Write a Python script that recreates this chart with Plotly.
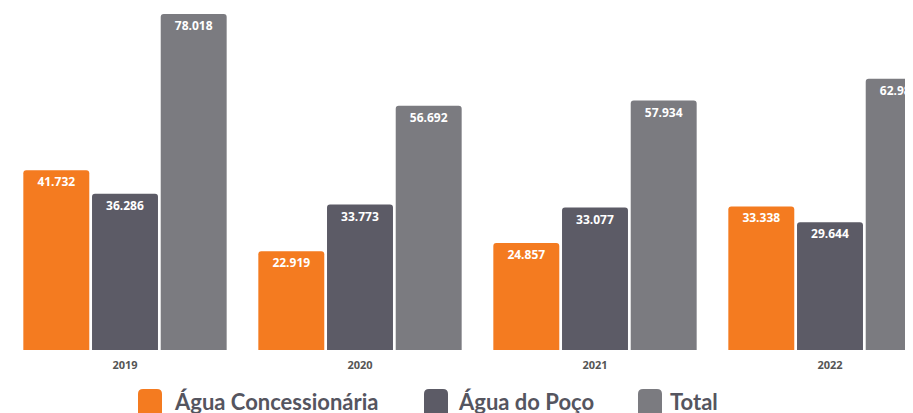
import plotly.graph_objects as go

years = ["2019", "2020", "2021", "2022"]
agua_concessionaria = [41.732, 22.919, 24.857, 33.338]
agua_poco = [36.286, 33.773, 33.077, 29.644]
total = [78.018, 56.692, 57.934, 62.982]

series_names = ["Água Concessionária", "Água do Poço", "Total"]
colors = ["#F47B20", "#5C5B66", "#7B7B80"]

# the page body has an 8px margin; size the figure to fill the rest of the window
OFF = 8
W, H = 913 - OFF, 413 - OFF
PLOT_H = 342
M_B = H - PLOT_H


def fmt(v):
    return f"{v:.3f}"


fig = go.Figure()
for name, vals, col in zip(series_names, [agua_concessionaria, agua_poco, total], colors):
    fig.add_trace(go.Bar(
        x=years, y=vals, name=name,
        marker=dict(color=col, line=dict(width=0)),
        text=[fmt(v) for v in vals],
        textposition="inside",
        insidetextanchor="end",
        textangle=0,
        textfont=dict(family="Open Sans", size=12, color="white", weight=700),
        showlegend=False,
        hoverinfo="skip",
    ))


def px2paper(x, y):
    # page pixel coords -> paper coords
    return (x - OFF) / W, (PLOT_H - (y - OFF)) / PLOT_H


def rounded_rect(x0, y0, x1, y1, r):
    def P(x, y):
        px, py = px2paper(x, y)
        return f"{px:.5f},{py:.5f}"
    return (f"M {P(x0 + r, y0)} L {P(x1 - r, y0)} Q {P(x1, y0)} {P(x1, y0 + r)} "
            f"L {P(x1, y1 - r)} Q {P(x1, y1)} {P(x1 - r, y1)} L {P(x0 + r, y1)} "
            f"Q {P(x0, y1)} {P(x0, y1 - r)} L {P(x0, y0 + r)} Q {P(x0, y0)} {P(x0 + r, y0)} Z")


legend_items = [(138, 172), (424, 456), (638, 668)]
shapes = []
annotations = []
for (bx, tx), name, col in zip(legend_items, series_names, colors):
    shapes.append(dict(type="path", xref="paper", yref="paper",
                       path=rounded_rect(bx, 389, bx + 24, 418, 5),
                       fillcolor=col, line=dict(width=0)))
    ax, ay = px2paper(tx, 401)
    annotations.append(dict(x=ax, y=ay, xref="paper", yref="paper",
                            text=name, showarrow=False, xanchor="left", yanchor="middle",
                            font=dict(family="Lato", size=22, color="#55555F", weight=700)))

x0 = -(125 - OFF) / 235
fig.update_layout(
    width=W, height=H,
    margin=dict(l=0, r=0, t=0, b=M_B),
    paper_bgcolor="white", plot_bgcolor="white",
    barmode="group", bargap=0.123, bargroupgap=0.04,
    barcornerradius=3,
    xaxis=dict(type="category", range=[x0, x0 + W / 235], showgrid=False, showline=False,
               zeroline=False, ticks="", ticklabelstandoff=7,
               tickfont=dict(family="Open Sans", size=11, color="#555555", weight=700)),
    yaxis=dict(range=[0, PLOT_H / (336 / 78.018)], visible=False),
    shapes=shapes,
    annotations=annotations,
)

fig.write_html("out.html")
